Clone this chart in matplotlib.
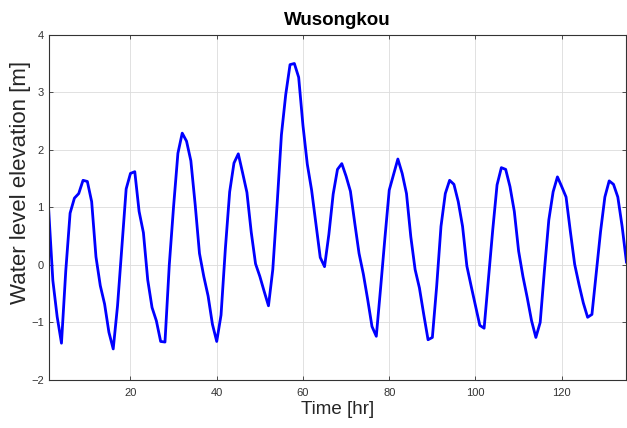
import numpy as np
import matplotlib
matplotlib.use("Agg")
import matplotlib.pyplot as plt

plt.rcParams['font.family'] = ['Liberation Sans', 'DejaVu Sans']

# Hourly water level at Wusongkou station
hours = np.arange(1, 136)
water_level = [
    1.00, -0.27, -0.90, -1.36, -0.10, 0.90, 1.16, 1.24, 1.47, 1.45,
    1.10, 0.14, -0.36, -0.68, -1.17, -1.46, -0.71, 0.30, 1.32, 1.59,
    1.62, 0.93, 0.56, -0.26, -0.74, -0.97, -1.33, -1.34, 0.00, 1.02,
    1.94, 2.29, 2.15, 1.81, 1.05, 0.20, -0.20, -0.54, -1.03, -1.33,
    -0.87, 0.28, 1.27, 1.77, 1.93, 1.60, 1.26, 0.57, 0.02, -0.20,
    -0.46, -0.71, -0.08, 1.05, 2.26, 2.96, 3.48, 3.50, 3.26, 2.42,
    1.75, 1.30, 0.72, 0.13, -0.03, 0.53, 1.23, 1.66, 1.76, 1.54,
    1.28, 0.73, 0.20, -0.16, -0.60, -1.07, -1.24, -0.40, 0.47, 1.30,
    1.57, 1.84, 1.59, 1.24, 0.49, -0.08, -0.40, -0.86, -1.30, -1.26,
    -0.37, 0.67, 1.24, 1.47, 1.40, 1.10, 0.67, -0.02, -0.37, -0.71,
    -1.05, -1.10, -0.25, 0.61, 1.39, 1.69, 1.66, 1.36, 0.93, 0.24,
    -0.20, -0.57, -0.97, -1.26, -1.00, -0.08, 0.78, 1.27, 1.53, 1.36,
    1.18, 0.58, 0.01, -0.34, -0.66, -0.91, -0.86, -0.14, 0.58, 1.18,
    1.46, 1.40, 1.18, 0.67, 0.05,
]
x_ticks = [20, 40, 60, 80, 100, 120]
y_ticks = [-2, -1, 0, 1, 2, 3, 4]

fig = plt.figure(figsize=(6.27, 4.28), dpi=100)
ax = fig.add_axes([0.0774, 0.1121, 0.9217, 0.8068])

ax.plot(hours, water_level, color=(0, 0, 1), linewidth=2.0)

ax.set_xlim(1, 135)
ax.set_ylim(-2, 4)
ax.set_xticks(x_ticks)
ax.set_yticks(y_ticks)

ax.grid(True, color='#dcdcdc', linewidth=0.6)
ax.set_axisbelow(True)
for side in ax.spines.values():
    side.set_color('#333333')
    side.set_linewidth(0.8)

ax.tick_params(axis='both', direction='in', length=3, width=0.6,
               labelsize=8, colors='#333333', top=True, right=True)
ax.tick_params(axis='x', pad=6)

ax.set_title('Wusongkou', fontsize=13.5, fontweight='bold', pad=7)
ax.set_xlabel('Time [hr]', fontsize=13.5, color='#262626', labelpad=2)
ax.set_ylabel('Water level elevation [m]', fontsize=16, color='#262626')
ax.yaxis.set_label_coords(-0.03, 0.573)

fig.savefig('out.png', dpi=100)
